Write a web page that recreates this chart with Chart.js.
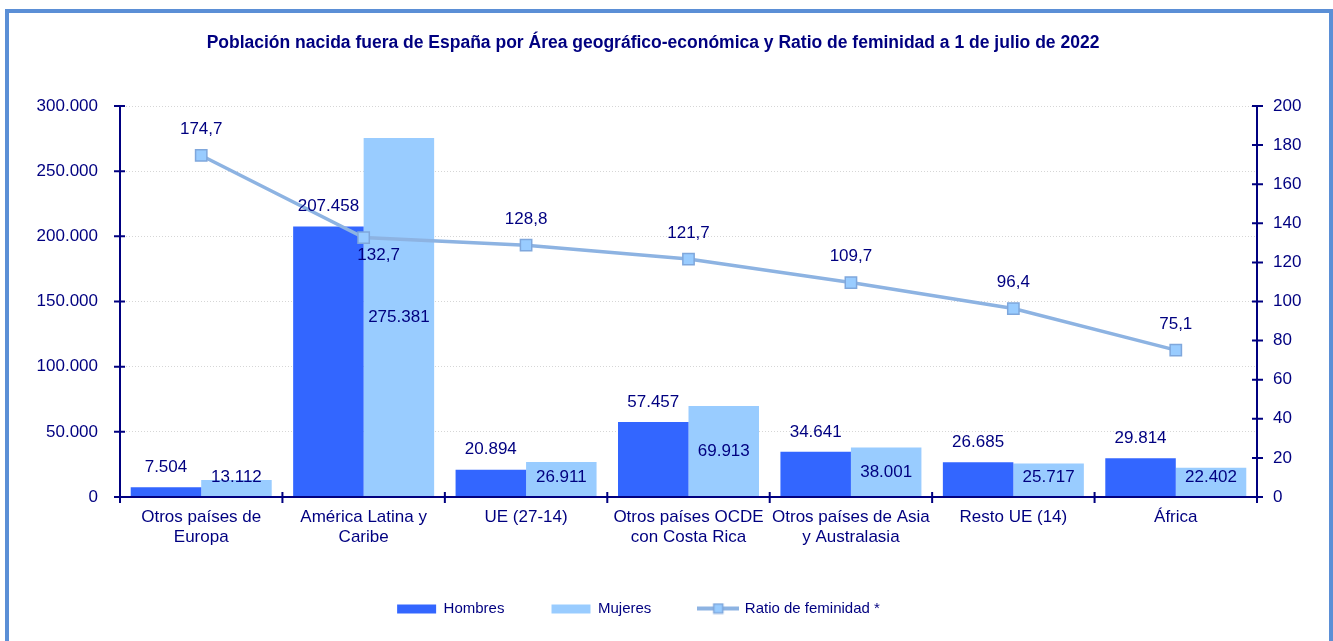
<!DOCTYPE html>
<html>
<head>
<meta charset="utf-8">
<script src="https://cdn.jsdelivr.net/npm/chart.js@4.4.0/dist/chart.umd.min.js"></script>
<style>
  html, body { margin: 0; padding: 0; background: #fff; overflow: hidden; }
  #frame { position: absolute; left: 5px; top: 9px; width: 1328px; height: 700px;
           border: 4px solid #5b8fd6; box-sizing: border-box; }
  #wrap { position: absolute; left: 0; top: 0; width: 1306px; height: 641px; }
</style>
</head>
<body>
<div id="frame"></div>
<div id="wrap"><canvas id="myChart"></canvas></div>
<script>
  // Data
  const categories = [
    ['Otros países de', 'Europa'],
    ['América Latina y', 'Caribe'],
    'UE (27-14)',
    ['Otros países OCDE', 'con Costa Rica'],
    ['Otros países de Asia', 'y Australasia'],
    'Resto UE (14)',
    'África'
  ];
  const hombres = [7504, 207458, 20894, 57457, 34641, 26685, 29814];
  const mujeres = [13112, 275381, 26911, 69913, 38001, 25717, 22402];
  const ratioFeminidad = [174.7, 132.7, 128.8, 121.7, 109.7, 96.4, 75.1];

  const NAVY = '#000080';
  const FONT = "'Liberation Sans', Arial, sans-serif";
  const COL_H = '#3366ff';
  const COL_M = '#99ccff';
  const COL_LINE = '#8db3e2';

  // es-ES style thousands separator (also for 4 digits)
  const fmtMiles = (n) => String(n).replace(/\B(?=(\d{3})+(?!\d))/g, '.');
  const fmtRatio = (n) => n.toFixed(1).replace('.', ',');

  // Legend icons, indexed by dataset
  const makeIcon = (kind) => {
    const c = document.createElement('canvas');
    c.width = 42; c.height = 12;
    const g = c.getContext('2d');
    if (kind === 'line') {
      g.strokeStyle = COL_LINE; g.lineWidth = 4;
      g.beginPath(); g.moveTo(0, 6); g.lineTo(42, 6); g.stroke();
      g.fillStyle = COL_M; g.fillRect(16, 1, 10, 10);
      g.strokeStyle = '#7fa7dc'; g.lineWidth = 1.5; g.strokeRect(16.5, 1.5, 9, 9);
    } else {
      g.fillStyle = kind;
      g.fillRect(1, 2, 39, 9);
    }
    return c;
  };
  const legendIcons = [makeIcon(COL_H), makeIcon(COL_M), makeIcon('line')];

  // Axis lines, crossing tick marks and value labels
  const decorPlugin = {
    id: 'decor',
    afterLayout(chart) {
      // legend in the original sits a bit left of the canvas centre
      if (chart.legend) chart.legend.left -= 28;
    },
    afterDatasetsDraw(chart) {
      const ctx = chart.ctx;
      const area = chart.chartArea;
      const xs = chart.scales.x, yl = chart.scales.y, yr = chart.scales.y1;
      ctx.save();
      ctx.strokeStyle = NAVY;
      ctx.lineWidth = 2;
      ctx.beginPath();
      ctx.moveTo(area.left, area.top - 1); ctx.lineTo(area.left, area.bottom + 1);
      ctx.moveTo(area.right, area.top - 1); ctx.lineTo(area.right, area.bottom + 1);
      ctx.moveTo(area.left, area.bottom); ctx.lineTo(area.right, area.bottom);
      yl.ticks.forEach(t => {
        const y = yl.getPixelForValue(t.value);
        ctx.moveTo(area.left - 6, y); ctx.lineTo(area.left + 5, y);
      });
      yr.ticks.forEach(t => {
        const y = yr.getPixelForValue(t.value);
        ctx.moveTo(area.right - 5, y); ctx.lineTo(area.right + 6, y);
      });
      for (let i = 0; i <= categories.length; i++) {
        const x = xs.getPixelForValue(i - 0.5);
        ctx.moveTo(x, area.bottom - 5); ctx.lineTo(x, area.bottom + 6);
      }
      ctx.stroke();

      ctx.fillStyle = NAVY;
      ctx.font = '17px ' + FONT;
      ctx.textAlign = 'center';
      ctx.textBaseline = 'middle';
      chart.getDatasetMeta(0).data.forEach((bar, i) => {
        ctx.fillText(fmtMiles(hombres[i]), bar.x, bar.y - 20);
      });
      chart.getDatasetMeta(1).data.forEach((bar, i) => {
        const y = Math.min((bar.y + bar.base) / 2, bar.base - 19);
        ctx.fillText(fmtMiles(mujeres[i]), bar.x, y);
      });
      chart.getDatasetMeta(2).data.forEach((pt, i) => {
        if (i === 1) {
          ctx.fillText(fmtRatio(ratioFeminidad[i]), pt.x + 15, pt.y + 18);
        } else {
          ctx.fillText(fmtRatio(ratioFeminidad[i]), pt.x, pt.y - 26);
        }
      });
      ctx.restore();
    }
  };

  const canvas = document.getElementById('myChart');
  new Chart(canvas, {
    data: {
      labels: categories,
      datasets: [
        {
          type: 'bar', label: 'Hombres', data: hombres, yAxisID: 'y',
          backgroundColor: COL_H, borderWidth: 0,
          categoryPercentage: 0.868, barPercentage: 1.0, order: 2
        },
        {
          type: 'bar', label: 'Mujeres', data: mujeres, yAxisID: 'y',
          backgroundColor: COL_M, borderWidth: 0,
          categoryPercentage: 0.868, barPercentage: 1.0, order: 2
        },
        {
          type: 'line', label: 'Ratio de feminidad *', data: ratioFeminidad, yAxisID: 'y1',
          borderColor: COL_LINE, borderWidth: 3.5, tension: 0,
          pointStyle: 'rect', pointRadius: 8, pointHoverRadius: 8,
          pointBackgroundColor: COL_M, pointBorderColor: '#7fa7dc', pointBorderWidth: 1.5,
          order: 1
        }
      ]
    },
    options: {
      responsive: true,
      maintainAspectRatio: false,
      animation: false,
      layout: { padding: { left: 0, right: 0, top: 0, bottom: 15 } },
      plugins: {
        tooltip: { enabled: false },
        title: {
          display: true,
          text: 'Población nacida fuera de España por Área geográfico-económica y Ratio de feminidad a 1 de julio de 2022',
          color: NAVY,
          font: { family: FONT, size: 17.5, weight: 'bold' },
          padding: { top: 33, bottom: 52 }
        },
        legend: {
          position: 'bottom',
          labels: {
            usePointStyle: true,
            pointStyleWidth: 38,
            padding: 48,
            color: NAVY,
            font: { family: FONT, size: 15 },
            sort: (a, b) => a.datasetIndex - b.datasetIndex,
            generateLabels(chart) {
              const items = Chart.defaults.plugins.legend.labels.generateLabels(chart);
              items.forEach((it) => { it.pointStyle = legendIcons[it.datasetIndex]; });
              return items;
            }
          }
        }
      },
      scales: {
        x: {
          offset: true,
          grid: { display: false, drawTicks: false },
          border: { display: false },
          ticks: {
            color: NAVY, padding: 10, maxRotation: 0, autoSkip: false,
            font: { family: FONT, size: 17, lineHeight: 1.2 }
          },
          afterFit(scale) { scale.height = 56; }
        },
        y: {
          position: 'left',
          min: 0, max: 300000,
          grid: { color: '#d6d6d6', lineWidth: 1, drawTicks: false },
          border: { display: false, dash: [1, 2] },
          ticks: {
            stepSize: 50000, color: NAVY, padding: 22,
            font: { family: FONT, size: 17 },
            callback: (v) => fmtMiles(v)
          },
          afterFit(scale) { scale.width = 120; }
        },
        y1: {
          position: 'right',
          min: 0, max: 200,
          grid: { display: false, drawTicks: false },
          border: { display: false },
          ticks: {
            stepSize: 20, color: NAVY, padding: 16,
            font: { family: FONT, size: 17 }
          },
          afterFit(scale) { scale.width = 49; }
        }
      }
    },
    plugins: [decorPlugin]
  });
</script>
</body>
</html>
